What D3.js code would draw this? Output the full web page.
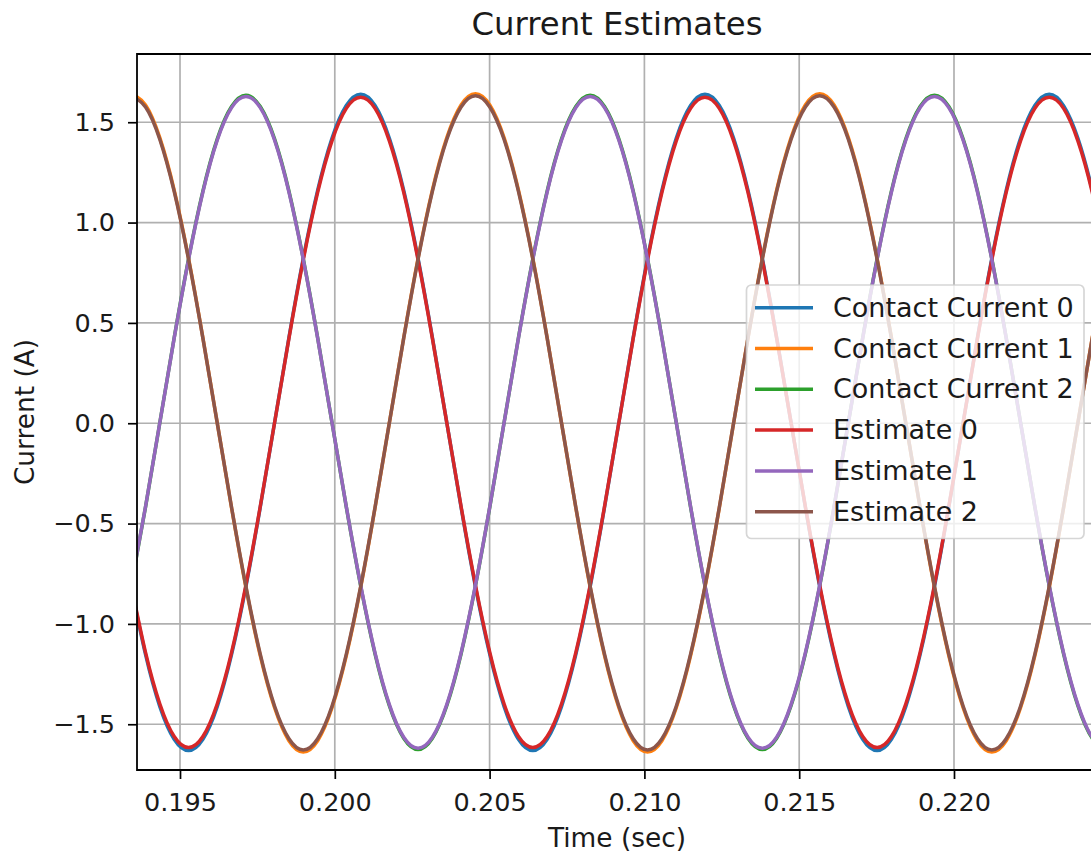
<!DOCTYPE html>
<html>
<head>
<meta charset="utf-8">
<script src="https://cdn.jsdelivr.net/npm/d3@7"></script>
<style>
  body { margin: 0; background: #ffffff; }
  svg { display: block; }
  text { font-family: "DejaVu Sans", sans-serif; fill: #1a1a1a; }
</style>
</head>
<body>
<svg id="chart" width="1091" height="856"></svg>
<script>
// Sample times (s)
const time = [
  0.193422, 0.193886, 0.194349, 0.194812, 0.195276, 0.195739, 0.196202, 0.196666, 0.197129, 0.197592,
  0.198056, 0.198519, 0.198982, 0.199446, 0.199909, 0.200372, 0.200836, 0.201299, 0.201762, 0.202226,
  0.202689, 0.203152, 0.203616, 0.204079, 0.204542, 0.205006, 0.205469, 0.205932, 0.206396, 0.206859,
  0.207322, 0.207786, 0.208249, 0.208712, 0.209176, 0.209639, 0.210102, 0.210566, 0.211029, 0.211492,
  0.211956, 0.212419, 0.212882, 0.213346, 0.213809, 0.214272, 0.214736, 0.215199, 0.215662, 0.216126,
  0.216589, 0.217052, 0.217516, 0.217979, 0.218442, 0.218906, 0.219369, 0.219832, 0.220296, 0.220759,
  0.221222, 0.221686, 0.222149, 0.222612, 0.223076, 0.223539, 0.224002, 0.224466, 0.224929
];

// Measured contact currents (A)
const contactCurrent0 = [
  -0.814, -1.152, -1.412, -1.575, -1.631, -1.575, -1.412, -1.152, -0.814, -0.419,
  0.004, 0.427, 0.822, 1.160, 1.420, 1.583, 1.639, 1.583, 1.420, 1.160, 0.822, 0.427,
  0.004, -0.419, -0.814, -1.152, -1.412, -1.575, -1.631, -1.575, -1.412, -1.152, -0.814, -0.419,
  0.004, 0.427, 0.822, 1.160, 1.420, 1.583, 1.639, 1.583, 1.420, 1.160, 0.822, 0.427,
  0.004, -0.419, -0.814, -1.152, -1.412, -1.575, -1.631, -1.575, -1.412, -1.152, -0.814, -0.419,
  0.004, 0.427, 0.822, 1.160, 1.420, 1.583, 1.639, 1.583, 1.420, 1.160, 0.822
];
const contactCurrent1 = [
  1.642, 1.586, 1.422, 1.162, 0.822, 0.426, 0.002, -0.422, -0.818, -1.158, -1.418, -1.582,
  -1.638, -1.582, -1.418, -1.158, -0.818, -0.422,
  0.002, 0.426, 0.822, 1.162, 1.422, 1.586, 1.642, 1.586, 1.422, 1.162, 0.822, 0.426,
  0.002, -0.422, -0.818, -1.158, -1.418, -1.582, -1.638, -1.582, -1.418, -1.158, -0.818, -0.422,
  0.002, 0.426, 0.822, 1.162, 1.422, 1.586, 1.642, 1.586, 1.422, 1.162, 0.822, 0.426,
  0.002, -0.422, -0.818, -1.158, -1.418, -1.582, -1.638, -1.582, -1.418, -1.158, -0.818, -0.422,
  0.002, 0.426, 0.822
];
const contactCurrent2 = [
  -0.811, -0.418,
  0.004, 0.426, 0.819, 1.157, 1.416, 1.578, 1.634, 1.578, 1.416, 1.157, 0.819, 0.426,
  0.004, -0.418, -0.811, -1.149, -1.408, -1.570, -1.626, -1.570, -1.408, -1.149, -0.811, -0.418,
  0.004, 0.426, 0.819, 1.157, 1.416, 1.578, 1.634, 1.578, 1.416, 1.157, 0.819, 0.426,
  0.004, -0.418, -0.811, -1.149, -1.408, -1.570, -1.626, -1.570, -1.408, -1.149, -0.811, -0.418,
  0.004, 0.426, 0.819, 1.157, 1.416, 1.578, 1.634, 1.578, 1.416, 1.157, 0.819, 0.426,
  0.004, -0.418, -0.811, -1.149, -1.408, -1.570, -1.626
];

// Estimated currents (A)
const estimate0 = [
  -0.806, -1.142, -1.399, -1.561, -1.616, -1.561, -1.399, -1.142, -0.806, -0.415,
  0.004, 0.423, 0.814, 1.150, 1.407, 1.569, 1.624, 1.569, 1.407, 1.150, 0.814, 0.423,
  0.004, -0.415, -0.806, -1.142, -1.399, -1.561, -1.616, -1.561, -1.399, -1.142, -0.806, -0.415,
  0.004, 0.423, 0.814, 1.150, 1.407, 1.569, 1.624, 1.569, 1.407, 1.150, 0.814, 0.423,
  0.004, -0.415, -0.806, -1.142, -1.399, -1.561, -1.616, -1.561, -1.399, -1.142, -0.806, -0.415,
  0.004, 0.423, 0.814, 1.150, 1.407, 1.569, 1.624, 1.569, 1.407, 1.150, 0.814
];
const estimate1 = [
  -0.808, -0.416,
  0.004, 0.424, 0.816, 1.152, 1.410, 1.573, 1.628, 1.573, 1.410, 1.152, 0.816, 0.424,
  0.004, -0.416, -0.808, -1.144, -1.402, -1.565, -1.620, -1.565, -1.402, -1.144, -0.808, -0.416,
  0.004, 0.424, 0.816, 1.152, 1.410, 1.573, 1.628, 1.573, 1.410, 1.152, 0.816, 0.424,
  0.004, -0.416, -0.808, -1.144, -1.402, -1.565, -1.620, -1.565, -1.402, -1.144, -0.808, -0.416,
  0.004, 0.424, 0.816, 1.152, 1.410, 1.573, 1.628, 1.573, 1.410, 1.152, 0.816, 0.424,
  0.004, -0.416, -0.808, -1.144, -1.402, -1.565, -1.620
];
const estimate2 = [
  1.632, 1.576, 1.414, 1.155, 0.817, 0.424, 0.002, -0.420, -0.813, -1.151, -1.410, -1.572,
  -1.628, -1.572, -1.410, -1.151, -0.813, -0.420,
  0.002, 0.424, 0.817, 1.155, 1.414, 1.576, 1.632, 1.576, 1.414, 1.155, 0.817, 0.424,
  0.002, -0.420, -0.813, -1.151, -1.410, -1.572, -1.628, -1.572, -1.410, -1.151, -0.813, -0.420,
  0.002, 0.424, 0.817, 1.155, 1.414, 1.576, 1.632, 1.576, 1.414, 1.155, 0.817, 0.424,
  0.002, -0.420, -0.813, -1.151, -1.410, -1.572, -1.628, -1.572, -1.410, -1.151, -0.813, -0.420,
  0.002, 0.424, 0.817
];

const seriesNames = ["Contact Current 0", "Contact Current 1", "Contact Current 2",
                     "Estimate 0", "Estimate 1", "Estimate 2"];
const seriesValues = [contactCurrent0, contactCurrent1, contactCurrent2,
                      estimate0, estimate1, estimate2];
const seriesColors = ["#1f77b4", "#ff7f0e", "#2ca02c", "#d62728", "#9467bd", "#8c564b"];

const xTickValues = [0.195, 0.200, 0.205, 0.210, 0.215, 0.220];
const yTickValues = [-1.5, -1.0, -0.5, 0.0, 0.5, 1.0, 1.5];
const xDomain = [0.193611, 0.224619];
const yDomain = [-1.728, 1.840];

const chartTitle = "Current Estimates";
const xLabel = "Time (sec)";
const yLabel = "Current (A)";

// ---- layout ----
const plot = { left: 137, right: 1097, top: 54, bottom: 770 };
const svg = d3.select("#chart");

const x = d3.scaleLinear().domain(xDomain).range([plot.left, plot.right]);
const y = d3.scaleLinear().domain(yDomain).range([plot.bottom, plot.top]);

svg.append("defs").append("clipPath").attr("id", "plot-area")
  .append("rect")
  .attr("x", plot.left).attr("y", plot.top)
  .attr("width", plot.right - plot.left).attr("height", plot.bottom - plot.top);

// grid
const grid = svg.append("g").attr("stroke", "#b0b0b0").attr("stroke-width", 1.7);
grid.selectAll("line.vx").data(xTickValues).join("line")
  .attr("x1", d => x(d)).attr("x2", d => x(d))
  .attr("y1", plot.top).attr("y2", plot.bottom);
grid.selectAll("line.hy").data(yTickValues).join("line")
  .attr("x1", plot.left).attr("x2", plot.right)
  .attr("y1", d => y(d)).attr("y2", d => y(d));

// series
const line = d3.line()
  .x((d, i) => x(time[i]))
  .y(d => y(d))
  .curve(d3.curveNatural);

svg.append("g").attr("clip-path", "url(#plot-area)")
  .selectAll("path").data(seriesValues).join("path")
  .attr("d", d => line(d))
  .attr("fill", "none")
  .attr("stroke", (d, i) => seriesColors[i])
  .attr("stroke-width", 3.5)
  .attr("stroke-linejoin", "round");

// axes
const xAxis = d3.axisBottom(x)
  .tickValues(xTickValues)
  .tickFormat(d3.format(".3f"))
  .tickSize(9).tickPadding(14);
const yAxis = d3.axisLeft(y)
  .tickValues(yTickValues)
  .tickFormat(d3.format(".1f"))
  .tickSize(9).tickPadding(13);

const gx = svg.append("g").attr("transform", `translate(0,${plot.bottom})`).call(xAxis);
const gy = svg.append("g").attr("transform", `translate(${plot.left},0)`).call(yAxis);
[gx, gy].forEach(g => {
  g.select(".domain").remove();
  g.selectAll(".tick line").attr("stroke", "#000").attr("stroke-width", 1.7);
  g.selectAll(".tick text")
    .attr("fill", "#1a1a1a")
    .style("font-family", "'DejaVu Sans', sans-serif")
    .style("font-size", "25.5px");
});

// spines (right spine lies beyond the visible area)
const spines = svg.append("g").attr("stroke", "#000").attr("stroke-width", 1.8).attr("fill", "none");
spines.append("path")
  .attr("d", `M${plot.right},${plot.top}H${plot.left}V${plot.bottom}H${plot.right}`)
  .attr("stroke-linecap", "square");

// title and axis labels
svg.append("text")
  .attr("x", (plot.left + plot.right) / 2).attr("y", 35)
  .attr("text-anchor", "middle").style("font-size", "32.3px")
  .text(chartTitle);
svg.append("text")
  .attr("x", (plot.left + plot.right) / 2).attr("y", 847)
  .attr("text-anchor", "middle").style("font-size", "26.4px")
  .text(xLabel);
svg.append("text")
  .attr("transform", `translate(34,${(plot.top + plot.bottom) / 2}) rotate(-90)`)
  .attr("text-anchor", "middle").style("font-size", "26.4px")
  .text(yLabel);

// legend
const legend = svg.append("g");
legend.append("rect")
  .attr("x", 746.5).attr("y", 285).attr("width", 337.5).attr("height", 253.5)
  .attr("rx", 5).attr("ry", 5)
  .attr("fill", "#ffffff").attr("fill-opacity", 0.8)
  .attr("stroke", "#cccccc").attr("stroke-opacity", 0.8).attr("stroke-width", 1.7);
const rows = legend.selectAll("g.row").data(seriesNames).join("g")
  .attr("transform", (d, i) => `translate(0,${307.7 + 40.8 * i})`);
rows.append("line")
  .attr("x1", 755).attr("x2", 813).attr("y1", 0).attr("y2", 0)
  .attr("stroke", (d, i) => seriesColors[i]).attr("stroke-width", 3.5);
rows.append("text")
  .attr("x", 833).attr("y", 9)
  .style("font-size", "27px")
  .text(d => d);
</script>
</body>
</html>
